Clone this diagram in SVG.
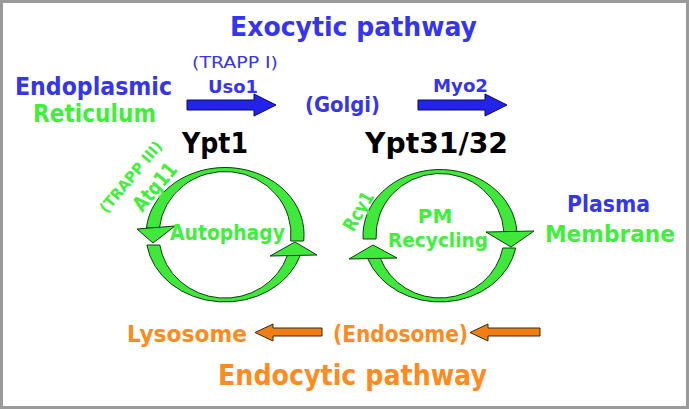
<svg xmlns="http://www.w3.org/2000/svg" width="689" height="409" viewBox="0 0 689 409">
<style>
text{font-family:"DejaVu Sans","Liberation Sans",sans-serif;font-weight:bold;}
.b{fill:#3535ee;}
.g{fill:#3ef03a;}
.o{fill:#ff8a1e;}
.k{fill:#000;}
.thin{font-weight:normal;}
.ring{fill:#3fe83a;stroke:#0b3d0b;stroke-width:1;}
.ba{fill:#2323ea;stroke:#0a0a55;stroke-width:1;}
.oa{fill:#f07e14;stroke:#3a2a10;stroke-width:1;}
</style>
<rect x="1.5" y="1.5" width="686" height="406" fill="#fff" stroke="#9a9a9a" stroke-width="3"/>

<g id="title-exo"><text class="b" x="230" y="36" font-size="27" textLength="247" lengthAdjust="spacingAndGlyphs">Exocytic pathway</text></g>
<g id="er">
<text class="b" x="15" y="95" font-size="24" textLength="157" lengthAdjust="spacingAndGlyphs">Endoplasmic</text>
<text class="g" x="33" y="122" font-size="24" textLength="123" lengthAdjust="spacingAndGlyphs">Reticulum</text>
</g>
<g id="golgi"><text class="b" x="305" y="112" font-size="22" textLength="75" lengthAdjust="spacingAndGlyphs">(Golgi)</text></g>
<g id="ypt1"><text class="k" x="182" y="153" font-size="29" textLength="66" lengthAdjust="spacingAndGlyphs">Ypt1</text></g>
<g id="ypt31"><text class="k" x="365" y="153" font-size="29" textLength="143" lengthAdjust="spacingAndGlyphs">Ypt31/32</text></g>
<g id="pm">
<text class="b" x="567" y="212" font-size="23" textLength="83" lengthAdjust="spacingAndGlyphs">Plasma</text>
<text class="g" x="545" y="242" font-size="23" textLength="130" lengthAdjust="spacingAndGlyphs">Membrane</text>
</g>
<g id="lysosome"><text class="o" x="127" y="342" font-size="23" textLength="120" lengthAdjust="spacingAndGlyphs">Lysosome</text></g>
<g id="endosome"><text class="o" x="333" y="342" font-size="23" textLength="135" lengthAdjust="spacingAndGlyphs">(Endosome)</text></g>
<g id="title-endo"><text class="o" x="218" y="385" font-size="28" textLength="269" lengthAdjust="spacingAndGlyphs">Endocytic pathway</text></g>

<g id="autophagy-cycle">
<path class="ring" d="M303.7 241 A79 67 0 0 0 146.4 228 L159.4 228 A66 63 0 0 1 290.7 241 Z"/>
<polygon class="ring" points="137,229 175,226 153,243"/>
<path class="ring" d="M146.9 245 A79 67 0 0 0 300.4 255 L287.6 255 A66 63 0 0 1 159.8 245 Z"/>
<polygon class="ring" points="270,256 317,255 295,242"/>
<text class="g" x="170" y="240" font-size="22" textLength="115" lengthAdjust="spacingAndGlyphs">Autophagy</text>
</g>

<g id="recycling-cycle">
<path class="ring" d="M363.1 239 A77 66 0 0 1 516.9 232 L503.9 232 A64 62 0 0 0 376.1 239 Z"/>
<polygon class="ring" points="486,232 534,231 511,247"/>
<path class="ring" d="M515.7 248 A77 66 0 0 1 367.4 258 L380.2 258 A64 62 0 0 0 502.8 248 Z"/>
<polygon class="ring" points="349,259 397,258 373,245"/>
<text class="g" x="435" y="223" font-size="20" text-anchor="middle">PM</text>
<text class="g" x="388" y="247" font-size="20" textLength="100" lengthAdjust="spacingAndGlyphs">Recycling</text>
</g>

<g id="connectors">
<polygon class="ba" points="187,100 254,100 254,94 276,105 254,116 254,110 187,110"/>
<polygon class="ba" points="418,100 485,100 485,94 507,105 485,116 485,110 418,110"/>
<polygon class="oa" points="322,328 273,328 273,324 255,332.5 273,341 273,336 322,336"/>
<polygon class="oa" points="540,328 488,328 488,324 470,332.5 488,341 488,336 540,336"/>
</g>

<g id="labels">
<text class="b thin" x="192" y="68" font-size="15" textLength="86" lengthAdjust="spacingAndGlyphs">(TRAPP I)</text>
<text class="b" x="208" y="93" font-size="18" textLength="50" lengthAdjust="spacingAndGlyphs">Uso1</text>
<text class="b" x="433" y="92" font-size="18" textLength="55" lengthAdjust="spacingAndGlyphs">Myo2</text>
<text class="g" transform="translate(131,177) rotate(-50)" y="5" font-size="15" font-weight="600" text-anchor="middle" textLength="88" lengthAdjust="spacingAndGlyphs">(TRAPP III)</text>
<text class="g" transform="translate(155,187) rotate(-50)" y="7" font-size="21" text-anchor="middle" textLength="56" lengthAdjust="spacingAndGlyphs">Atg11</text>
<text class="g" transform="translate(358,211) rotate(-60)" y="7" font-size="19" text-anchor="middle" textLength="42" lengthAdjust="spacingAndGlyphs">Rcy1</text>
</g>
</svg>
